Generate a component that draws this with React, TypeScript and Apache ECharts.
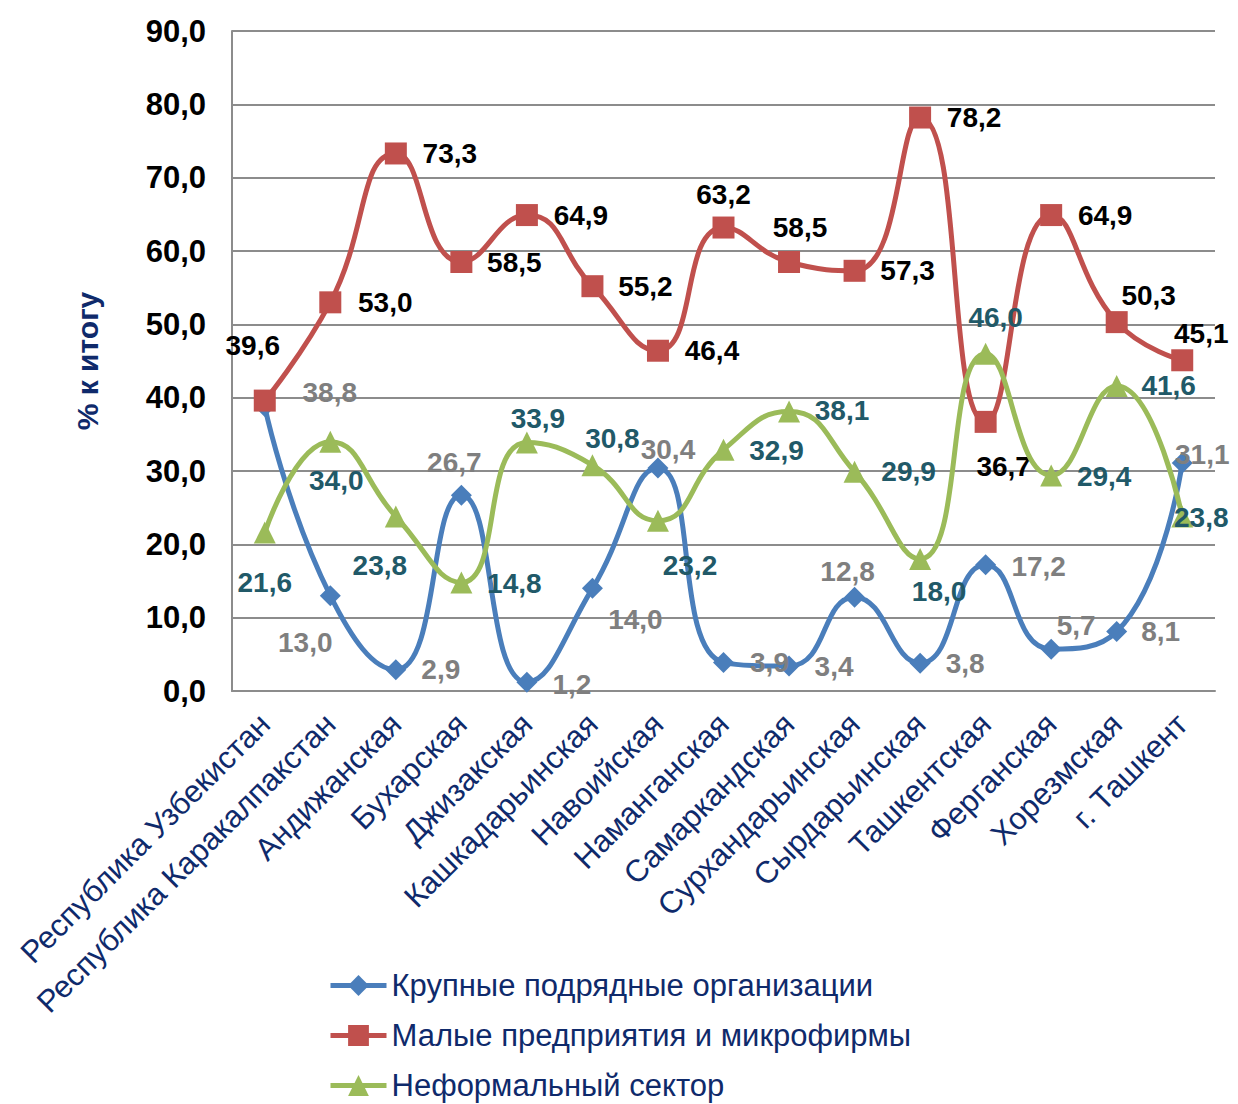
import React, { useEffect, useRef } from "react";
import * as echarts from "echarts";

const categories = [
  "Республика Узбекистан",
  "Республика Каракалпакстан",
  "Андижанская",
  "Бухарская",
  "Джизакская",
  "Кашкадарьинская",
  "Навоийская",
  "Наманганская",
  "Самаркандская",
  "Сурхандарьинская",
  "Сырдарьинская",
  "Ташкентская",
  "Ферганская",
  "Хорезмская",
  "г. Ташкент",
];

const seriesNames = [
  "Крупные подрядные организации",
  "Малые предприятия и микрофирмы",
  "Неформальный сектор",
];

const largeValues = [38.8, 13.0, 2.9, 26.7, 1.2, 14.0, 30.4, 3.9, 3.4, 12.8, 3.8, 17.2, 5.7, 8.1, 31.1];
const smallValues = [39.6, 53.0, 73.3, 58.5, 64.9, 55.2, 46.4, 63.2, 58.5, 57.3, 78.2, 36.7, 64.9, 50.3, 45.1];
const informalValues = [21.6, 34.0, 23.8, 14.8, 33.9, 30.8, 23.2, 32.9, 38.1, 29.9, 18.0, 46.0, 29.4, 41.6, 23.8];

const yTicks = { min: 0, max: 90, interval: 10 };

// label offsets (style only)
const largeOffsets = [
  [65, -14], [-25, 47], [45, 0], [-7, -33], [45, 2], [43, 31], [10, -19], [46, 0],
  [45, 0], [-7, -26], [45, 0], [53, 2], [25, -24], [44, 0], [20, -8],
];
const smallOffsets = [
  [-12, -55], [55, 0], [54, 0], [53, 0], [54, 0], [53, 0], [54, 0], [0, -33],
  [11, -35], [53, 0], [54, 0], [18, 45], [54, 0], [32, -27], [19, -27],
];
const informalOffsets = [
  [0, 50], [6, 39], [-16, 49], [53, 1], [11, -24], [20, -27], [32, 45], [53, 1],
  [53, -1], [54, 0], [19, 32], [10, -36], [53, 1], [52, 0], [19, 1],
];

const NUM_FONT = "'Liberation Sans', Arial, sans-serif";
const TXT_FONT = "'Liberation Sans', Arial, sans-serif";
const NAVY = "#0f2a6b";

function fmt(v: number) {
  return v.toFixed(1).replace(".", ",");
}

function buildData(values: number[], offsets: number[][]) {
  return values.map((v, i) => ({ value: v, label: { offset: offsets[i] } }));
}

export default function App() {
  const ref = useRef<HTMLDivElement>(null);
  useEffect(() => {
    if (!ref.current) return;
    const chart = echarts.init(ref.current, undefined, { renderer: "svg" });
    const labelBase = (color: string) => ({
      show: true,
      position: "inside",
      align: "center",
      verticalAlign: "middle",
      fontFamily: NUM_FONT,
      fontWeight: "bold",
      fontSize: 28,
      color,
      formatter: (p: any) => fmt(p.value),
    });
    chart.setOption({
      animation: false,
      backgroundColor: "#ffffff",
      grid: { left: 224, right: 23, top: 23, height: 660, containLabel: false },
      legend: {
        orient: "vertical",
        left: 320,
        top: 962,
        padding: 0,
        itemWidth: 56,
        itemHeight: 26,
        itemGap: 19,
        lineStyle: { width: 5 },
        textStyle: { fontFamily: TXT_FONT, fontSize: 31, color: NAVY },
        data: seriesNames,
      },
      xAxis: {
        type: "category",
        data: categories,
        boundaryGap: true,
        axisLine: { show: true, lineStyle: { color: "#8c8c8c", width: 2 } },
        axisTick: { show: false },
        axisLabel: {
          rotate: 45,
          interval: 0,
          margin: 28,
          fontFamily: TXT_FONT,
          fontSize: 31,
          color: NAVY,
        },
      },
      yAxis: {
        type: "value",
        min: yTicks.min,
        max: yTicks.max,
        interval: yTicks.interval,
        name: "% к итогу",
        nameLocation: "middle",
        nameRotate: 90,
        nameGap: 130,
        nameTextStyle: { fontFamily: TXT_FONT, fontWeight: "bold", fontSize: 30, color: NAVY },
        axisLine: { show: true, lineStyle: { color: "#8c8c8c", width: 2 } },
        axisTick: { show: false },
        splitLine: { show: true, lineStyle: { color: "#8c8c8c", width: 2 } },
        axisLabel: {
          margin: 26,
          fontFamily: NUM_FONT,
          fontWeight: "bold",
          fontSize: 31,
          color: "#000000",
          formatter: (v: number) => fmt(v),
        },
      },
      series: [
        {
          name: seriesNames[0],
          type: "line",
          smooth: 0.5,
          data: buildData(largeValues, largeOffsets),
          symbol: "diamond",
          symbolSize: 21,
          itemStyle: { color: "#4a7ebb" },
          lineStyle: { color: "#4a7ebb", width: 5 },
          label: labelBase("#7f7f7f"),
          z: 3,
        },
        {
          name: seriesNames[1],
          type: "line",
          smooth: 0.5,
          data: buildData(smallValues, smallOffsets),
          symbol: "rect",
          symbolSize: 22,
          itemStyle: { color: "#c0504d" },
          lineStyle: { color: "#c0504d", width: 5 },
          label: labelBase("#000000"),
          z: 4,
        },
        {
          name: seriesNames[2],
          type: "line",
          smooth: 0.5,
          data: buildData(informalValues, informalOffsets),
          symbol: "triangle",
          symbolSize: 22,
          itemStyle: { color: "#9bbb59" },
          lineStyle: { color: "#9bbb59", width: 5 },
          label: labelBase("#215968"),
          z: 5,
        },
      ],
    });
    return () => chart.dispose();
  }, []);
  return <div ref={ref} style={{ width: 1230, height: 1096 }} />;
}
